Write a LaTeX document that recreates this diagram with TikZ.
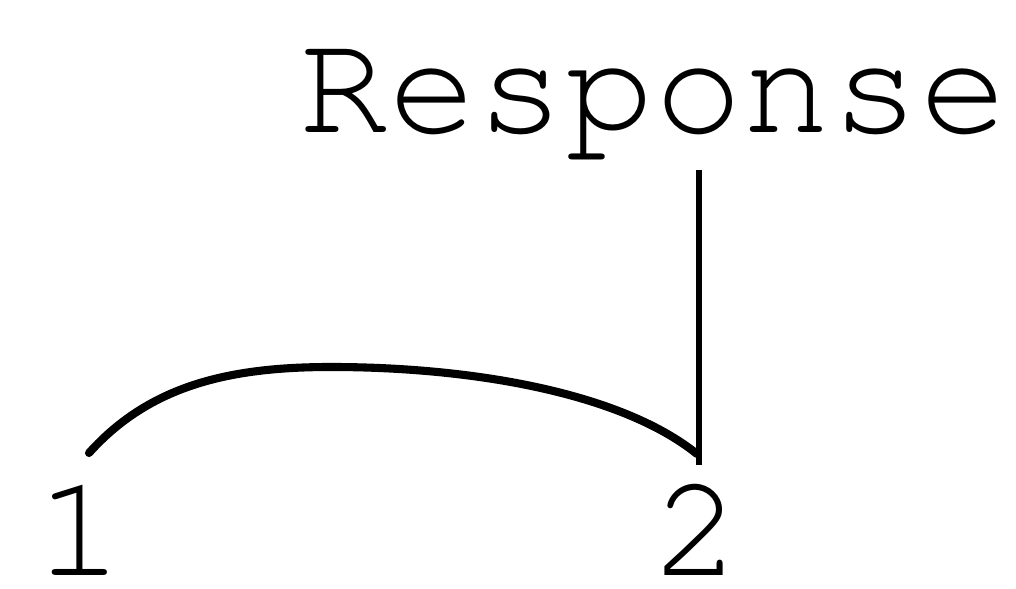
\documentclass[tikz,border=0pt]{standalone}
\usepackage[T1]{fontenc}
\usepackage{courier}

\begin{document}
\begin{tikzpicture}
[x=0.01cm,y=-0.01cm,%
  labelDecorate/.style={font=\ttfamily\fontsize{42pt}{42pt}\selectfont,inner sep=0pt,anchor=base},%
  stemDecorate/.style={line width=1.8pt},%
  arcDecorate/.style={line width=2.3pt,line cap=round}]
\useasboundingbox (0,0) rectangle (1016,589);
%% labels
\node (resp) at (654,133) [labelDecorate] {Response};
\foreach \nodename/\x/\txt in {one/80/1, two/697/2}
{
  \node (\nodename) at (\x,576) [labelDecorate] {\txt};
}
%% ends of the lines
\coordinate (stemTop) at (699,170);
\coordinate (stemEnd) at (699,465);
\coordinate (arcStart) at (89,453);
\coordinate (arcTop) at (331,367);
\coordinate (arcEnd) at (697,454);
%% lines
\draw[stemDecorate] (stemTop) -- (stemEnd);
\draw[arcDecorate] (arcStart) .. controls (150,385) and (230,367) .. (arcTop)
  .. controls (470,367) and (620,392) .. (arcEnd);
\end{tikzpicture}
\end{document}
